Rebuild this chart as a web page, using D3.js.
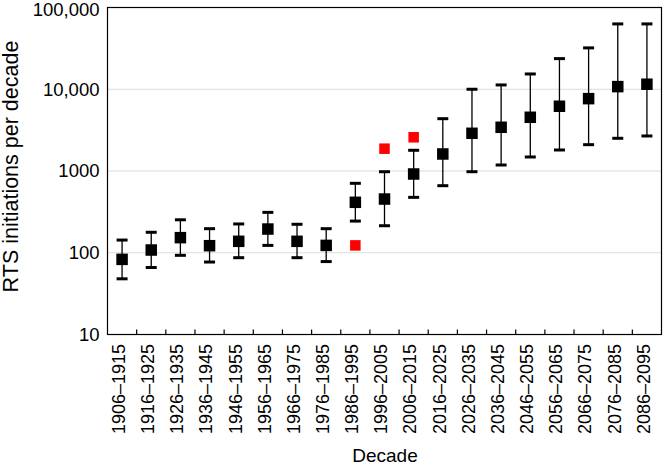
<!DOCTYPE html>
<html>
<head>
<meta charset="utf-8">
<script src="https://cdn.jsdelivr.net/npm/d3@7"></script>
<style>
html,body{margin:0;padding:0;background:#fff;}
text{font-family:"Liberation Sans",Arial,Helvetica,sans-serif;fill:#000;}
</style>
</head>
<body>
<svg id="chart" width="663" height="466"></svg>
<script>
const categories = ["1906–1915","1916–1925","1926–1935","1936–1945","1946–1955","1956–1965","1966–1975","1976–1985","1986–1995","1996–2005","2006–2015","2016–2025","2026–2035","2036–2045","2046–2055","2056–2065","2066–2075","2076–2085","2086–2095"];
const modelled = [83,108,153,122,138,195,138,123,414,454,919,1615,2893,3427,4541,6196,7674,10770,11520];
const upper = [143,178,253,197,225,312,223,197,707,980,1792,4365,10000,11290,15380,23700,32060,62970,62970];
const lower = [48,66,93,77,87,123,87,78,244,214,476,661,980,1184,1484,1807,2099,2512,2682];
const observedCats = ["1986–1995","1996–2005","2006–2015"];
const observed = [123,1875,2585];
const yTicks = [10,100,1000,10000,100000];
const yTickLabels = ["10","100","1000","10,000","100,000"];

const svg = d3.select("#chart");
const m = {left:107.5, right:1.5, top:7.5, bottom:131.5};
const W = 663, H = 466;
const x = d3.scaleBand().domain(categories).range([m.left, W - m.right]).padding(0);
const y = d3.scaleLog().domain([10,100000]).range([H - m.bottom, m.top]);

// gridlines
svg.append("g").selectAll("line").data([100,1000,10000]).join("line")
  .attr("x1", m.left).attr("x2", W - m.right)
  .attr("y1", d => y(d)).attr("y2", d => y(d))
  .attr("stroke", "#dcdcdc").attr("stroke-width", 1.2);

// y axis labels
svg.append("g").selectAll("text").data(yTicks).join("text")
  .attr("x", m.left - 8).attr("y", d => y(d) + (d === 100000 ? 2 : 0)).attr("dy", "0.35em")
  .attr("text-anchor", "end").style("font-size", "18.5px")
  .text((d,i) => yTickLabels[i]);

// x axis ticks (inside, at band boundaries)
const bounds = categories.slice(1).map(c => x(c));
svg.append("g").selectAll("line").data(bounds).join("line")
  .attr("x1", d => d).attr("x2", d => d)
  .attr("y1", H - m.bottom).attr("y2", H - m.bottom - 5)
  .attr("stroke", "#000").attr("stroke-width", 1.2);

// x labels
svg.append("g").selectAll("text").data(categories).join("text")
  .attr("transform", d => `translate(${x(d) + x.bandwidth()/2 + 2.8},${H - m.bottom + 9.5}) rotate(-90)`)
  .attr("text-anchor", "end").style("font-size", "18px")
  .text(d => d);

// error bars
const eb = svg.append("g");
const cx = c => x(c) + x.bandwidth()/2;
eb.selectAll("line.v").data(categories).join("line").attr("class","v")
  .attr("x1", cx).attr("x2", cx)
  .attr("y1", (d,i) => y(upper[i])).attr("y2", (d,i) => y(lower[i]))
  .attr("stroke", "#000").attr("stroke-width", 1.3);
const capW = 11;
eb.selectAll("line.u").data(categories).join("line").attr("class","u")
  .attr("x1", d => cx(d) - capW/2).attr("x2", d => cx(d) + capW/2)
  .attr("y1", (d,i) => y(upper[i])).attr("y2", (d,i) => y(upper[i]))
  .attr("stroke", "#000").attr("stroke-width", 3);
eb.selectAll("line.l").data(categories).join("line").attr("class","l")
  .attr("x1", d => cx(d) - capW/2).attr("x2", d => cx(d) + capW/2)
  .attr("y1", (d,i) => y(lower[i])).attr("y2", (d,i) => y(lower[i]))
  .attr("stroke", "#000").attr("stroke-width", 3);

// squares
const sq = 11.5;
svg.append("g").selectAll("rect").data(categories).join("rect")
  .attr("x", d => cx(d) - sq/2).attr("y", (d,i) => y(modelled[i]) - sq/2)
  .attr("width", sq).attr("height", sq).attr("fill", "#000");
const rq = 10.5;
svg.append("g").selectAll("rect").data(observedCats).join("rect")
  .attr("x", d => cx(d) - rq/2).attr("y", (d,i) => y(observed[i]) - rq/2)
  .attr("width", rq).attr("height", rq).attr("fill", "#ff0000");

// frame
svg.append("rect").attr("x", m.left).attr("y", m.top)
  .attr("width", W - m.right - m.left).attr("height", H - m.bottom - m.top)
  .attr("fill", "none").attr("stroke", "#000").attr("stroke-width", 1.2);

// axis titles
svg.append("text").attr("x", 385).attr("y", 462).attr("text-anchor", "middle")
  .style("font-size", "19px").text("Decade");
svg.append("text").attr("transform", "translate(17.5,166.5) rotate(-90)")
  .attr("text-anchor", "middle").style("font-size", "21.5px").text("RTS initiations per decade");
</script>
</body>
</html>
